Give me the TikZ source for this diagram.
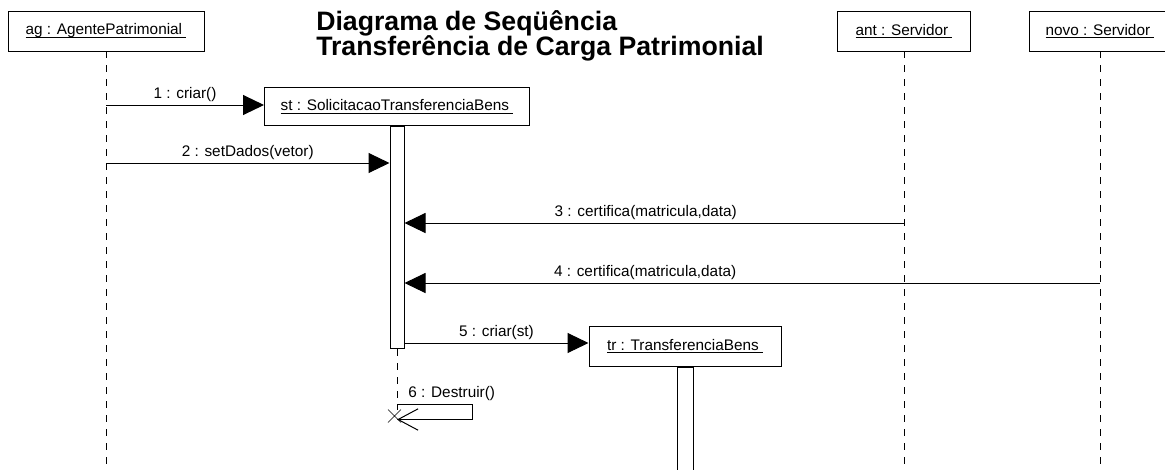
\documentclass[tikz,border=0pt]{standalone}
\usepackage{fontspec}
\setmainfont{Liberation Sans}
\usetikzlibrary{arrows.meta}

\newcommand{\objlabel}[1]{\setbox0\hbox{#1\ }\rlap{\rule[-1.8pt]{\wd0}{0.5pt}}\box0}

\begin{document}
\begin{tikzpicture}[x=0.75pt,y=0.75pt,yscale=-1,xscale=1,
  obj/.style={draw, fill=white, line width=0.75pt, inner sep=0pt, font=\fontsize{11.5}{13}\selectfont},
  activ/.style={draw, fill=white, line width=0.75pt, inner sep=0pt, minimum width=10.5pt, anchor=north},
  lifeline/.style={line width=0.75pt, dash pattern=on 5.25pt off 5.25pt},
  msg/.style={line width=0.75pt, -{Triangle[length=15.75pt,width=15pt]}},
  msglabel/.style={anchor=south, inner sep=2pt, font=\fontsize{11.5}{13}\selectfont},
  titletext/.style={anchor=base west, inner sep=0pt, font=\fontsize{20}{22}\selectfont\bfseries}]
\useasboundingbox (0,0) rectangle (1165,469);

%Title
\node[titletext] (title1) at (316,30) {Diagrama de Seqüência};
\node[titletext] (title2) at (316,55) {Transferência de Carga Patrimonial};

%Lifelines
\coordinate (agend) at (106,469);
\coordinate (antend) at (904,469);
\coordinate (novoend) at (1100,469);
\draw[lifeline] (106,51) -- (agend);
\draw[lifeline] (904,51) -- (antend);
\draw[lifeline] (1100,51) -- (novoend);

%Objects
\node[obj, minimum width=147pt, minimum height=30pt] (ag) at (106,31) {\objlabel{ag : AgentePatrimonial}};
\node[obj, minimum width=99.75pt, minimum height=30pt] (ant) at (904,31) {\objlabel{ant : Servidor}};
\node[obj, minimum width=106.5pt, minimum height=30pt] (novo) at (1100,31) {\objlabel{novo : Servidor}};
\node[obj, minimum width=198.75pt, minimum height=28.5pt] (st) at (397,106.5) {\objlabel{st : SolicitacaoTransferenciaBens}};
\node[obj, minimum width=144pt, minimum height=30pt] (tr) at (685,346) {\objlabel{tr : TransferenciaBens}};

%Activations
\node[activ, minimum height=166.5pt] (stbar) at (st.south) {};
\node[activ, minimum width=12pt, minimum height=84pt] (trbar) at (tr.south) {};

%Messages
\coordinate (m1) at (106,105);
\coordinate (m2) at (106,163);
\coordinate (m3) at (904,223);
\coordinate (m4) at (1100,283);
\coordinate (m5) at (397,343);
\coordinate (m6) at (397,404);

\draw[msg] (m1) -- node[msglabel] (l1) {1 : criar()} (m1 -| st.west);
\draw[msg] (m2) -- node[msglabel] (l2) {2 : setDados(vetor)} (m2 -| stbar.west);
\draw[msg] (m3) -- node[msglabel, pos=0.517] (l3) {3 : certifica(matricula,data)} (m3 -| stbar.east);
\draw[msg] (m4) -- node[msglabel, pos=0.654] (l4) {4 : certifica(matricula,data)} (m4 -| stbar.east);
\draw[msg] (m5 -| stbar.east) -- node[msglabel] (l5) {5 : criar(st)} (m5 -| tr.west);

%Destroy
\draw[lifeline] (stbar.south) -- (397,410);
\draw[line width=0.75pt, -{Straight Barb[length=15pt,width=16pt]}] (m6) -- node[msglabel, pos=0.73] (l6) {6 : Destruir()} ++(75,0) -- ++(0,15.5) -- ++(-75,0) coordinate (destroy);
\draw[line width=0.5pt] (destroy) ++(-2,-3) +(-7,-7) -- +(6,6) +(-7,6) -- +(6,-7);
\end{tikzpicture}
\end{document}
